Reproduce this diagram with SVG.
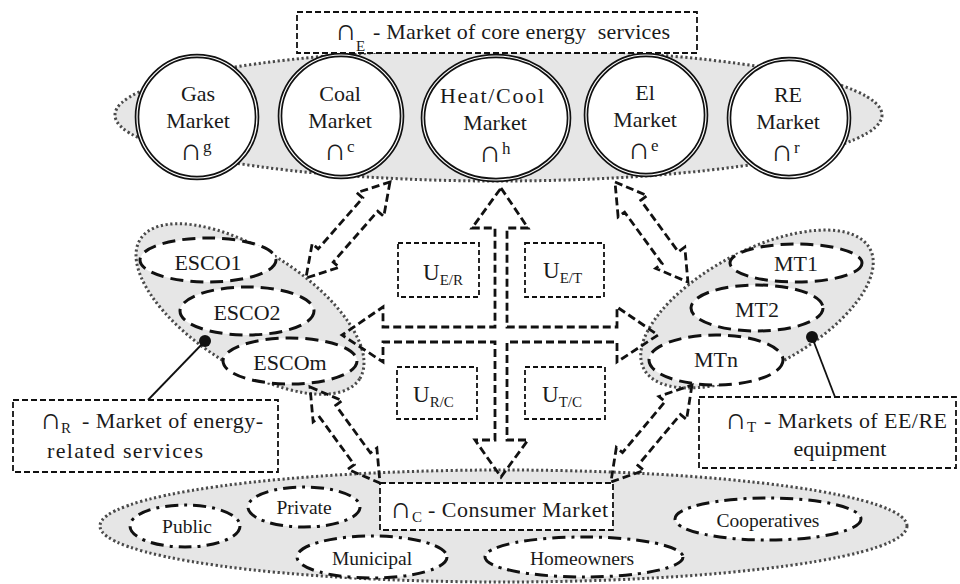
<svg xmlns="http://www.w3.org/2000/svg" width="960" height="584" viewBox="0 0 960 584">
  <style>
    text { font-family: "Liberation Serif", "DejaVu Serif", serif; fill: #1a1a1a; }
    .zone { fill: #e6e6e6; stroke: #4a4a4a; stroke-width: 3; stroke-dasharray: 2.2 2.6; }
    .mkt { fill: #fff; stroke: #111; stroke-width: 4.6; }
    .mkt-gap { fill: none; stroke: #fff; stroke-width: 1.2; }
    .firm { fill: #fff; stroke: #111; stroke-width: 3; stroke-dasharray: 13 7; }
    .cons { fill: #fff; stroke: #111; stroke-width: 3; stroke-dasharray: 13 6 3 6; }
    .flow { fill: none; stroke: #111; stroke-width: 2.8; stroke-dasharray: 8 4; stroke-linejoin: miter; }
    .lbl { fill: #fff; stroke: #111; stroke-width: 1.8; stroke-dasharray: 6 3; }
    .ubox { fill: #fff; stroke: #111; stroke-width: 1.8; stroke-dasharray: 5 3; }
    .pin { stroke: #111; stroke-width: 1.8; }
    .node { font-size: 22px; text-anchor: middle; }
    .small { font-size: 19.5px; text-anchor: middle; }
    .cap { font-size: 22px; }
    .cap-sym { font-family: "DejaVu Sans", sans-serif; font-weight: 200; font-size: 30px; }
    .sym { font-family: "DejaVu Sans", sans-serif; font-weight: 200; font-size: 31px; }
    .sup { font-size: 17px; }
    .sub { font-size: 15px; }
  </style>

  <!-- market zones -->
  <g id="zone-energy">
    <ellipse class="zone" cx="498.5" cy="115" rx="383.5" ry="66"/>
  </g>
  <g id="zone-services">
    <ellipse class="zone" cx="250" cy="309" rx="130" ry="58" transform="rotate(32.5 250 309)"/>
  </g>
  <g id="zone-equipment">
    <ellipse class="zone" cx="757" cy="309" rx="128" ry="58" transform="rotate(-28 757 309)"/>
  </g>
  <g id="zone-consumer">
    <ellipse class="zone" cx="503.5" cy="526" rx="403.5" ry="56"/>
  </g>

  <!-- core energy markets -->
  <g id="gas">
    <ellipse class="mkt" cx="197" cy="117" rx="60" ry="61"/>
    <ellipse class="mkt-gap" cx="197" cy="117" rx="60" ry="61"/>
    <text class="node" x="198" y="101">Gas</text>
    <text class="node" x="198" y="128">Market</text>
    <text class="sym" x="180" y="160">∩</text>
    <text class="sup" x="203" y="152">g</text>
  </g>
  <g id="coal">
    <ellipse class="mkt" cx="341" cy="116" rx="61" ry="61"/>
    <ellipse class="mkt-gap" cx="341" cy="116" rx="61" ry="61"/>
    <text class="node" x="340" y="101">Coal</text>
    <text class="node" x="340" y="128">Market</text>
    <text class="sym" x="324" y="160">∩</text>
    <text class="sup" x="347" y="152">c</text>
  </g>
  <g id="heat-cool">
    <ellipse class="mkt" cx="496" cy="118" rx="73" ry="62"/>
    <ellipse class="mkt-gap" cx="496" cy="118" rx="73" ry="62"/>
    <text class="node" x="492" y="103" textLength="104">Heat/Cool</text>
    <text class="node" x="495" y="130">Market</text>
    <text class="sym" x="479" y="162">∩</text>
    <text class="sup" x="502" y="154">h</text>
  </g>
  <g id="electricity">
    <ellipse class="mkt" cx="646" cy="115" rx="60" ry="60"/>
    <ellipse class="mkt-gap" cx="646" cy="115" rx="60" ry="60"/>
    <text class="node" x="645" y="100">El</text>
    <text class="node" x="645" y="127">Market</text>
    <text class="sym" x="628" y="159">∩</text>
    <text class="sup" x="651" y="151">e</text>
  </g>
  <g id="renewables">
    <ellipse class="mkt" cx="789" cy="118" rx="60" ry="59"/>
    <ellipse class="mkt-gap" cx="789" cy="118" rx="60" ry="59"/>
    <text class="node" x="788" y="102">RE</text>
    <text class="node" x="788" y="129">Market</text>
    <text class="sym" x="771" y="161">∩</text>
    <text class="sup" x="794" y="153">r</text>
  </g>

  <!-- energy service companies -->
  <g id="esco1">
    <ellipse class="firm" cx="208" cy="260" rx="68" ry="22"/>
    <text class="node" x="208" y="270">ESCO1</text>
  </g>
  <g id="esco2">
    <ellipse class="firm" cx="247" cy="311" rx="67" ry="24"/>
    <text class="node" x="247" y="320">ESCO2</text>
  </g>
  <g id="escom">
    <ellipse class="firm" cx="290" cy="361" rx="67" ry="23"/>
    <text class="node" x="290" y="370">ESCOm</text>
  </g>

  <!-- equipment markets -->
  <g id="mt1">
    <ellipse class="firm" cx="796" cy="263" rx="66" ry="19"/>
    <text class="node" x="796" y="271">MT1</text>
  </g>
  <g id="mt2">
    <ellipse class="firm" cx="757" cy="308" rx="66" ry="23"/>
    <text class="node" x="757" y="317">MT2</text>
  </g>
  <g id="mtn">
    <ellipse class="firm" cx="716" cy="360" rx="67" ry="25"/>
    <text class="node" x="716" y="367">MTn</text>
  </g>

  <!-- consumer groups -->
  <g id="public">
    <ellipse class="cons" cx="185" cy="526" rx="55" ry="21"/>
    <text class="small" x="187" y="533">Public</text>
  </g>
  <g id="private">
    <ellipse class="cons" cx="304" cy="507" rx="56" ry="20"/>
    <text class="small" x="304" y="514">Private</text>
  </g>
  <g id="municipal">
    <ellipse class="cons" cx="372" cy="557" rx="75" ry="21"/>
    <text class="small" x="372" y="565">Municipal</text>
  </g>
  <g id="homeowners">
    <ellipse class="cons" cx="584" cy="557" rx="99" ry="20"/>
    <text class="small" x="582" y="565">Homeowners</text>
  </g>
  <g id="cooperatives">
    <ellipse class="cons" cx="768" cy="519" rx="93" ry="21"/>
    <text class="small" x="768" y="527">Cooperatives</text>
  </g>

  <!-- interface boxes -->
  <g id="u-er">
    <rect class="ubox" x="398" y="243" width="81" height="54"/>
    <text x="423" y="280" font-size="23">U<tspan font-size="15" dy="5">E/R</tspan></text>
  </g>
  <g id="u-et">
    <rect class="ubox" x="525" y="243" width="79" height="54"/>
    <text x="543" y="278" font-size="23">U<tspan font-size="15" dy="5">E/T</tspan></text>
  </g>
  <g id="u-rc">
    <rect class="ubox" x="397" y="367" width="80" height="52"/>
    <text x="413" y="402" font-size="23">U<tspan font-size="15" dy="5">R/C</tspan></text>
  </g>
  <g id="u-tc">
    <rect class="ubox" x="525" y="367" width="80" height="52"/>
    <text x="542" y="402" font-size="23">U<tspan font-size="15" dy="5">T/C</tspan></text>
  </g>

  <!-- connectors: two-way flows between markets -->
  <g id="connectors">
    <path class="flow" d="M501,188 L528,228 L507,228 L507,327 L617,327 L617,307 L658,335 L617,362 L617,342 L507,342 L507,440 L528,440 L501,477 L475,440 L495,440 L495,342 L383,342 L383,362 L342,335 L383,307 L383,327 L495,327 L495,228 L472,228 Z"/>
    <path class="flow" transform="translate(390 182) rotate(131.2)" d="M0,0 L30,-18 L30,-10 L97.6,-10 L97.6,-18 L127.6,0 L97.6,18 L97.6,10 L30,10 L30,18 Z"/>
    <path class="flow" transform="translate(615 182) rotate(53.9)" d="M0,0 L30,-18 L30,-10 L93.8,-10 L93.8,-18 L123.8,0 L93.8,18 L93.8,10 L30,10 L30,18 Z"/>
    <path class="flow" transform="translate(310 387) rotate(53.9)" d="M0,0 L30,-18 L30,-10 L88.8,-10 L88.8,-18 L118.8,0 L88.8,18 L88.8,10 L30,10 L30,18 Z"/>
    <path class="flow" transform="translate(692 385) rotate(129.9)" d="M0,0 L30,-18 L30,-10 L96.4,-10 L96.4,-18 L126.4,0 L96.4,18 L96.4,10 L30,10 L30,18 Z"/>
    <line class="pin" x1="205" y1="341" x2="148" y2="400"/>
    <circle cx="205" cy="341" r="6" fill="#111"/>
    <line class="pin" x1="812" y1="337" x2="835" y2="397"/>
    <circle cx="812" cy="337" r="6" fill="#111"/>
  </g>

  <!-- market captions -->
  <g id="caption-energy">
    <rect class="lbl" x="297" y="12" width="400" height="41"/>
    <text class="cap-sym" x="335" y="40">∩</text>
    <text class="sub" x="356" y="51">E</text>
    <text class="cap" x="373" y="39" textLength="297" xml:space="preserve">- Market of core energy  services</text>
  </g>
  <g id="caption-services">
    <rect class="lbl" x="13" y="400" width="265" height="72"/>
    <text class="cap-sym" x="40" y="429">∩</text>
    <text class="sub" x="61" y="433">R</text>
    <text class="cap" x="82" y="428" textLength="181">- Market of energy-</text>
    <text class="cap" x="47" y="458" font-size="23" textLength="156">related services</text>
  </g>
  <g id="caption-equipment">
    <rect class="lbl" x="699" y="397" width="257" height="71"/>
    <text class="cap-sym" x="725" y="429">∩</text>
    <text class="sub" x="747" y="432">T</text>
    <text class="cap" x="764" y="428" textLength="183">- Markets of EE/RE</text>
    <text class="cap" x="840" y="456" text-anchor="middle">equipment</text>
  </g>
  <g id="caption-consumer">
    <rect class="lbl" x="380" y="483" width="233" height="47"/>
    <text class="cap-sym" x="390" y="518">∩</text>
    <text class="sub" x="412" y="522">C</text>
    <text class="cap" x="428" y="517" textLength="180">- Consumer Market</text>
  </g>
</svg>
